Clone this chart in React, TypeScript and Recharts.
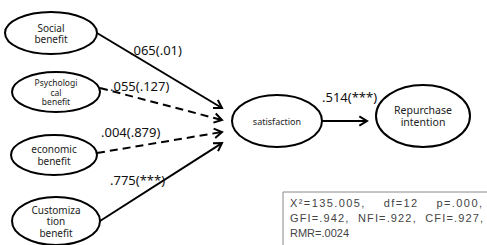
import React from 'react';
import { ScatterChart, Scatter, XAxis, YAxis, ReferenceLine, ReferenceArea } from 'recharts';

// path model: benefits -> satisfaction -> repurchase intention
const nodeLines = [
    ['Social', 'benefit'],
    ['Psychologi', 'cal', 'benefit'],
    ['economic', 'benefit'],
    ['Customiza', 'tion', 'benefit'],
    ['satisfaction'],
    ['Repurchase', 'intention'],
];
const pathFrom = [0, 1, 2, 3, 4];
const pathTo = [4, 4, 4, 4, 5];
const pathCoefs = ['.065', '.055', '.004', '.775', '.514'];
const pathSigs = ['.01', '.127', '.879', '***', '***'];
const pathSignificant = [true, false, false, true, true];
const fitLines = [
    'X²=135.005,    df=12    p=.000,',
    'GFI=.942,  NFI=.922,  CFI=.927,',
    'RMR=.0024',
];

// layout (diagram coordinates, 1 unit = 1px)
const W = 487;
const H = 245;
const NODE_LAYOUT = [
    { x: 51, y: 33, rx: 46, ry: 21, fs: 10, lh: 11 },
    { x: 56, y: 92, rx: 44, ry: 20, fs: 8.5, lh: 9.5 },
    { x: 54, y: 155, rx: 43, ry: 20, fs: 10, lh: 12 },
    { x: 56, y: 221, rx: 44, ry: 24, fs: 10, lh: 11.5 },
    { x: 277, y: 121, rx: 45, ry: 26, fs: 9, lh: 11 },
    { x: 423, y: 116, rx: 47, ry: 31, fs: 10.5, lh: 12 },
];
const PATH_LAYOUT = [
    { x1: 97, y1: 33, x2: 222, y2: 108, lx: 130, ly: 55 },
    { x1: 100, y1: 88, x2: 222, y2: 120, lx: 110, ly: 91 },
    { x1: 97, y1: 153, x2: 222, y2: 132, lx: 101, ly: 137 },
    { x1: 100, y1: 221, x2: 222, y2: 143, lx: 110, ly: 185 },
    { x1: 322, y1: 121, x2: 367, y2: 121, lx: 322, ly: 102 },
];
const FIT_BOX = { x1: 283, y1: 192, x2: 495, y2: 252 };
const FIT_TEXT = { x: 290, y: [207, 222, 237], len: [192, 193, 0] };

const nodeData = nodeLines.map((lines, i) => ({ ...NODE_LAYOUT[i], lines }));
const labelData = pathCoefs.map((c, i) => ({
    x: PATH_LAYOUT[i].lx,
    y: PATH_LAYOUT[i].ly,
    text: `${c}(${pathSigs[i]})`,
}));
const fitData = fitLines.map((t, i) => ({ x: FIT_TEXT.x, y: FIT_TEXT.y[i], text: t, len: FIT_TEXT.len[i] }));

const NodeShape = (props: any) => {
    const { cx, cy, payload } = props;
    const n = payload.lines.length;
    return (
        <g>
            <ellipse cx={cx} cy={cy} rx={payload.rx} ry={payload.ry} fill="#fff" stroke="#000" strokeWidth={2} />
            {payload.lines.map((l: string, i: number) => (
                <text
                    key={i}
                    x={cx}
                    y={cy + (i - (n - 1) / 2) * payload.lh}
                    textAnchor="middle"
                    dominantBaseline="central"
                    fontFamily="'Noto Sans', sans-serif"
                    fontSize={payload.fs}
                    fill="#222"
                >
                    {l}
                </text>
            ))}
        </g>
    );
};

const LabelShape = (props: any) => (
    <text x={props.cx} y={props.cy} fontFamily="'Noto Sans', sans-serif" fontSize={13} fill="#111">
        {props.payload.text}
    </text>
);

const FitShape = (props: any) => (
    <text
        x={props.cx}
        y={props.cy}
        fontFamily="'Liberation Sans', sans-serif"
        fontSize={11}
        fill="#444"
        xmlSpace="preserve"
        style={{ whiteSpace: 'pre' }}
        {...(props.payload.len ? { textLength: props.payload.len, lengthAdjust: 'spacing' } : {})}
    >
        {props.payload.text}
    </text>
);

const arrowShape = (dashed: boolean) => (props: any) => {
    const { x1, y1, x2, y2 } = props;
    const ang = Math.atan2(y2 - y1, x2 - x1);
    const L = 9;
    const A = 0.55;
    const ax = x2 - L * Math.cos(ang - A);
    const ay = y2 - L * Math.sin(ang - A);
    const bx = x2 - L * Math.cos(ang + A);
    const by = y2 - L * Math.sin(ang + A);
    return (
        <g>
            <line
                x1={x1}
                y1={y1}
                x2={x2 - Math.cos(ang)}
                y2={y2 - Math.sin(ang)}
                stroke="#000"
                strokeWidth={2}
                strokeDasharray={dashed ? '8 5' : undefined}
            />
            <polyline points={`${ax},${ay} ${x2},${y2} ${bx},${by}`} fill="none" stroke="#000" strokeWidth={2} />
        </g>
    );
};

export default function App() {
    return (
        <div style={{ width: W, height: H, position: 'absolute', left: 0, top: 0, background: '#fff' }}>
            <ScatterChart width={W} height={H} margin={{ top: 0, right: 0, bottom: 0, left: 0 }}>
                <XAxis type="number" dataKey="x" domain={[0, W]} hide allowDataOverflow />
                <YAxis type="number" dataKey="y" domain={[0, H]} reversed hide allowDataOverflow />
                <ReferenceArea
                    x1={FIT_BOX.x1}
                    x2={FIT_BOX.x2}
                    y1={FIT_BOX.y1}
                    y2={FIT_BOX.y2}
                    ifOverflow="visible"
                    fill="#fff"
                    fillOpacity={1}
                    stroke="#888"
                    strokeWidth={1}
                />
                {pathFrom.map((f, i) => (
                    <ReferenceLine
                        key={`${f}-${pathTo[i]}`}
                        segment={[
                            { x: PATH_LAYOUT[i].x1, y: PATH_LAYOUT[i].y1 },
                            { x: PATH_LAYOUT[i].x2, y: PATH_LAYOUT[i].y2 },
                        ]}
                        ifOverflow="visible"
                        shape={arrowShape(!pathSignificant[i])}
                    />
                ))}
                <Scatter data={nodeData} shape={NodeShape} isAnimationActive={false} />
                <Scatter data={labelData} shape={LabelShape} isAnimationActive={false} />
                <Scatter data={fitData} shape={FitShape} isAnimationActive={false} />
            </ScatterChart>
        </div>
    );
}
